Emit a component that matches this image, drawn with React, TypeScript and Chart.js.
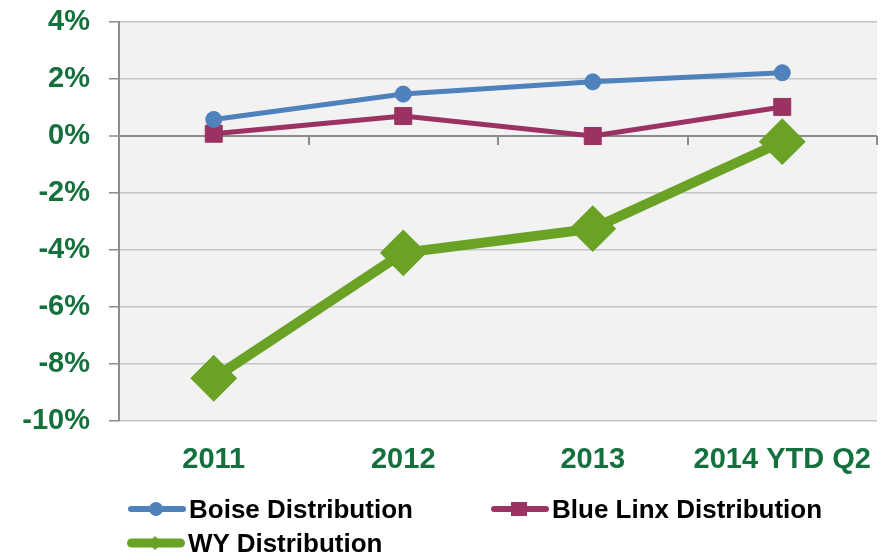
import React, { useEffect, useRef } from 'react';
import { Chart, registerables } from 'chart.js';

Chart.register(...registerables);

const categories = ['2011', '2012', '2013', '2014 YTD Q2'];
const boiseValues = [0.58, 1.47, 1.9, 2.22];
const blueLinxValues = [0.08, 0.7, 0.0, 1.02];
const wyValues = [-8.5, -4.1, -3.25, -0.2];
const yMin = -10;
const yMax = 4;
const yStep = 2;

const BLUE = '#4f81bd';
const MAROON = '#9b3263';
const GREEN = '#69a224';
const LABEL_GREEN = '#14703d';
const FONT = "Arial, 'Liberation Sans', sans-serif";

const plotPlugin = {
  id: 'plotDecor',
  beforeDraw(chart: any) {
    const { ctx, chartArea: a } = chart;
    ctx.save();
    ctx.fillStyle = '#f2f2f2';
    ctx.fillRect(a.left, a.top, a.right - a.left, a.bottom - a.top);
    ctx.restore();
  },
  beforeDatasetsDraw(chart: any) {
    const { ctx } = chart;
    const xs = chart.scales.x;
    const ys = chart.scales.y;
    const y0 = ys.getPixelForValue(0);
    ctx.save();
    ctx.strokeStyle = '#8c8c8c';
    ctx.lineWidth = 2;
    for (let i = 1; i <= categories.length; i++) {
      const px = Math.round(xs.getPixelForValue(i - 0.5));
      ctx.beginPath();
      ctx.moveTo(px, y0);
      ctx.lineTo(px, y0 + 9);
      ctx.stroke();
    }
    ctx.restore();
  },
};

function LegendItem(props: { left: number; top: number; color: string; marker: 'circle' | 'square' | 'diamond'; label: string; lineW: number }) {
  const { left, top, color, marker, label, lineW } = props;
  let m: any = null;
  if (marker === 'circle') m = <circle cx={28} cy={12} r={7} fill={color} />;
  if (marker === 'square') m = <rect x={20} y={5} width={16} height={14} fill={color} />;
  if (marker === 'diamond') m = <polygon points="28,5 35,12 28,19 21,12" fill={color} />;
  return (
    <div style={{ position: 'absolute', left, top, height: 24, display: 'flex', alignItems: 'center' }}>
      <svg width={58} height={24} style={{ display: 'block' }}>
        <line x1={lineW / 2} y1={12} x2={58 - lineW / 2} y2={12} stroke={color} strokeWidth={lineW} strokeLinecap="round" />
        {m}
      </svg>
      <span style={{ font: `bold 26px ${FONT}`, color: '#000', marginLeft: 3, whiteSpace: 'nowrap', lineHeight: '24px' }}>{label}</span>
    </div>
  );
}

export default function App() {
  const ref = useRef<HTMLCanvasElement>(null);
  useEffect(() => {
    if (!ref.current) return;
    const chart = new Chart(ref.current, {
      type: 'line',
      data: {
        labels: categories,
        datasets: [
          {
            label: 'Boise Distribution',
            data: boiseValues,
            borderColor: BLUE,
            backgroundColor: BLUE,
            borderWidth: 5,
            pointStyle: 'circle',
            pointRadius: 8,
            pointBackgroundColor: BLUE,
            pointBorderColor: BLUE,
            pointBorderWidth: 1,
            tension: 0,
          },
          {
            label: 'Blue Linx Distribution',
            data: blueLinxValues,
            borderColor: MAROON,
            backgroundColor: MAROON,
            borderWidth: 5,
            pointStyle: 'rect',
            pointRadius: 12,
            pointBackgroundColor: MAROON,
            pointBorderColor: MAROON,
            pointBorderWidth: 1,
            tension: 0,
          },
          {
            label: 'WY Distribution',
            data: wyValues,
            borderColor: GREEN,
            backgroundColor: GREEN,
            borderWidth: 10,
            pointStyle: 'rectRot',
            pointRadius: 22,
            pointBackgroundColor: GREEN,
            pointBorderColor: GREEN,
            pointBorderWidth: 2,
            tension: 0,
          },
        ],
      },
      options: {
        responsive: false,
        animation: false,
        layout: { autoPadding: false, padding: { top: 22, right: 11, left: 0, bottom: 70 } },
        plugins: { legend: { display: false }, tooltip: { enabled: false } },
        scales: {
          x: {
            offset: true,
            grid: { display: false, drawTicks: false },
            border: { display: false },
            ticks: {
              color: LABEL_GREEN,
              font: { family: FONT, size: 29, weight: 'bold' },
              padding: 22,
              maxRotation: 0,
              autoSkip: false,
            },
            afterFit(scale: any) {
              scale.height = 62;
              scale.paddingLeft = 0;
              scale.paddingRight = 0;
            },
          },
          y: {
            min: yMin,
            max: yMax,
            ticks: {
              stepSize: yStep,
              color: LABEL_GREEN,
              font: { family: FONT, size: 29, weight: 'bold' },
              padding: 19,
              callback: (v: any) => `${v}%`,
            },
            grid: {
              color: (c: any) => (c.tick && c.tick.value === 0 ? '#8c8c8c' : '#c4c4c4'),
              lineWidth: (c: any) => (c.tick && c.tick.value === 0 ? 2 : 1.5),
              drawTicks: true,
              tickLength: 10,
              tickColor: '#8c8c8c',
              tickWidth: 1.5,
            },
            border: { display: true, color: '#8c8c8c', width: 2 },
            afterFit(scale: any) {
              scale.width = 119;
              scale.paddingTop = 0;
              scale.paddingBottom = 0;
            },
          },
        },
      },
      plugins: [plotPlugin],
    });
    return () => chart.destroy();
  }, []);

  return (
    <div style={{ position: 'fixed', left: 0, top: 0, width: 888, height: 553, background: '#fff', overflow: 'hidden' }}>
      <canvas ref={ref} width={888} height={553} style={{ display: 'block' }} />
      <LegendItem left={128} top={497} color={BLUE} marker="circle" label="Boise Distribution" lineW={6} />
      <LegendItem left={491} top={497} color={MAROON} marker="square" label="Blue Linx Distribution" lineW={6} />
      <LegendItem left={127} top={531} color={GREEN} marker="diamond" label="WY Distribution" lineW={9} />
    </div>
  );
}
